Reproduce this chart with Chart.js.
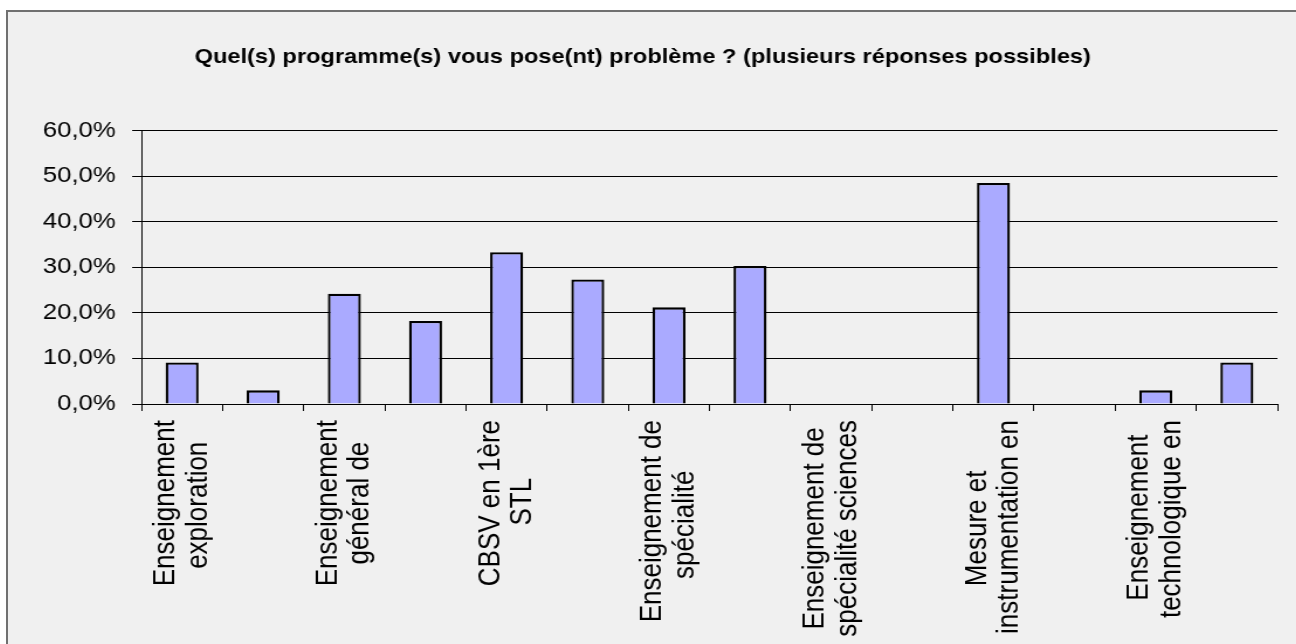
<!DOCTYPE html>
<html>
<head>
<meta charset="utf-8">
<script src="https://cdn.jsdelivr.net/npm/chart.js@4.4.1/dist/chart.umd.min.js"></script>
<style>
  html, body { margin:0; padding:0; background:#ffffff; overflow:hidden; width:1296px; height:644px; }
  #frame { position:absolute; left:6px; top:10px; width:1400px; height:800px; border:2px solid #707070; background:#f0f0f0; }
  #c { position:absolute; left:0; top:0; transform:scaleX(1.17); transform-origin:0 0; }
</style>
</head>
<body>
<div id="frame"><canvas id="c" width="1097" height="632"></canvas></div>
<script>
const TITLE = "Quel(s) programme(s) vous pose(nt) problème ? (plusieurs réponses possibles)";
const categories = [
  ["Enseignement", "exploration"], "",
  ["Enseignement", "général de"], "",
  ["CBSV en 1ère", "STL"], "",
  ["Enseignement de", "spécialité"], "",
  ["Enseignement de", "spécialité sciences"], "",
  ["Mesure et", "instrumentation en"], "",
  ["Enseignement", "technologique en"], ""
];
const values = [9.1, 3.0, 24.2, 18.2, 33.3, 27.3, 21.2, 30.3, 0, 0, 48.5, 0, 3.0, 9.1];
const yTicks = [0, 10, 20, 30, 40, 50, 60];

const FAMILY = '"Liberation Sans", Arial, sans-serif';
const X_SIZE = 26;

const mctx = document.createElement('canvas').getContext('2d');
mctx.font = X_SIZE + 'px ' + FAMILY;
function centerLines(lines) {
  if (!Array.isArray(lines)) return lines;
  const widths = lines.map(l => mctx.measureText(l).width);
  const maxW = Math.max(...widths);
  const sp = mctx.measureText(' ').width;
  return lines.map((l, i) => l + ' '.repeat(Math.max(0, Math.round((maxW - widths[i]) / 2 / sp))));
}

new Chart(document.getElementById('c'), {
  type: 'bar',
  data: {
    labels: categories,
    datasets: [{
      data: values,
      backgroundColor: '#aaaaff',
      borderColor: '#000000',
      borderWidth: 2.3,
      barPercentage: 0.407,
      categoryPercentage: 1
    }]
  },
  options: {
    responsive: false,
    animation: false,
    layout: { padding: { left: 0, right: 12, top: 0, bottom: 0 } },
    plugins: {
      legend: { display: false },
      tooltip: { enabled: false },
      title: {
        display: true,
        text: TITLE,
        color: '#000000',
        font: { family: FAMILY, size: 20.2, weight: 'bold', lineHeight: 1.2 },
        padding: { top: 32.9, bottom: 61.36 }
      }
    },
    scales: {
      x: {
        grid: { display: true, drawOnChartArea: false, drawTicks: true, tickLength: 7, color: '#000000', offset: true },
        border: { display: true, color: '#000000', width: 1 },
        ticks: {
          autoSkip: false, minRotation: 90, maxRotation: 90, padding: 9, labelOffset: -13.8,
          color: '#000000',
          font: { family: FAMILY, size: X_SIZE, lineHeight: 1.06 },
          callback: function (v, i) { return centerLines(categories[i]); }
        },
        afterFit: function (s) { s.height = 240; }
      },
      y: {
        min: yTicks[0], max: yTicks[yTicks.length - 1],
        ticks: {
          stepSize: 10, padding: 14, color: '#000000',
          font: { family: FAMILY, size: 22 },
          callback: v => v.toFixed(1).replace('.', ',') + '%'
        },
        grid: { color: '#000000', lineWidth: 1, tickLength: 8 },
        border: { display: true, color: '#000000', width: 1 },
        afterFit: function (s) { s.width = 114.1; }
      }
    }
  }
});
</script>
</body>
</html>
